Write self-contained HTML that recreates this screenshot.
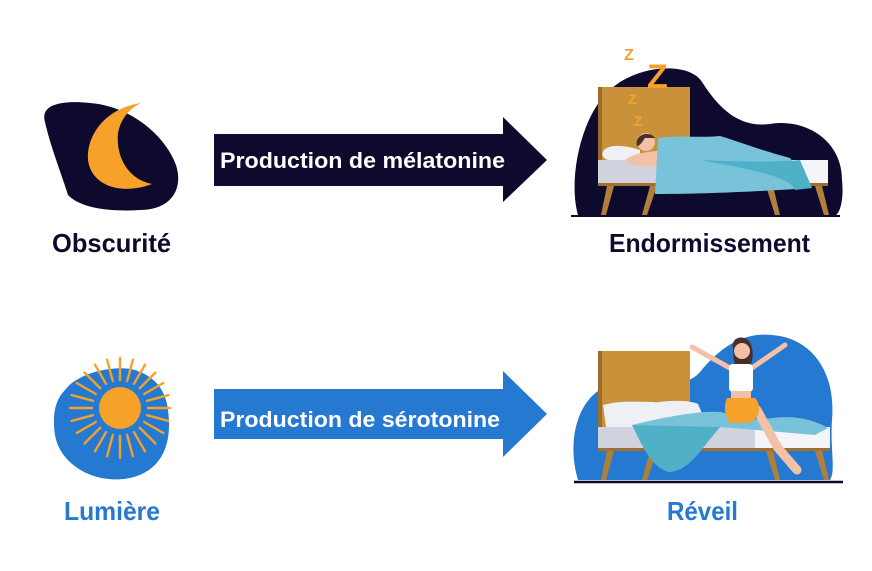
<!DOCTYPE html>
<html><head><meta charset="utf-8"><style>
html,body{margin:0;padding:0;background:#fff;}
svg{display:block;font-family:"Liberation Sans",sans-serif;font-weight:bold;}
</style></head><body>
<svg width="872" height="571" viewBox="0 0 872 571" xmlns="http://www.w3.org/2000/svg">
<rect width="872" height="571" fill="#fff"/>
<!-- Moon blob -->
<path d="M45,122 C40,105 60,100 90,103 C130,106 165,135 176,165 C184,190 170,210 140,210 C110,212 80,208 68,195 C60,170 50,145 45,122 Z" fill="#0d0a2e"/>
<path d="M141,103 C106,108 86,135 88,160 C91,185 120,196 152,184 C124,178 116,152 118,133 C121,117 131,108 141,103 Z" fill="#f6a12a"/>
<!-- Sun blob -->
<path d="M65,390 C80,370 120,365 135,370 C150,375 165,385 168,410 C172,440 165,470 130,478 C95,485 60,465 55,435 C52,415 55,400 65,390 Z" fill="#2579d0"/>
<g stroke="#f6a12a" stroke-width="2.4" stroke-linecap="round">
<line x1="148.0" y1="408.0" x2="170.0" y2="408.0"/><line x1="147.0" y1="415.2" x2="168.3" y2="420.9"/><line x1="144.2" y1="422.0" x2="163.3" y2="433.0"/><line x1="139.8" y1="427.8" x2="155.4" y2="443.4"/><line x1="134.0" y1="432.2" x2="145.0" y2="451.3"/><line x1="127.2" y1="435.0" x2="132.9" y2="456.3"/><line x1="120.0" y1="436.0" x2="120.0" y2="458.0"/><line x1="112.8" y1="435.0" x2="107.1" y2="456.3"/><line x1="106.0" y1="432.2" x2="95.0" y2="451.3"/><line x1="100.2" y1="427.8" x2="84.6" y2="443.4"/><line x1="95.8" y1="422.0" x2="76.7" y2="433.0"/><line x1="93.0" y1="415.2" x2="71.7" y2="420.9"/><line x1="92.0" y1="408.0" x2="70.0" y2="408.0"/><line x1="93.0" y1="400.8" x2="71.7" y2="395.1"/><line x1="95.8" y1="394.0" x2="76.7" y2="383.0"/><line x1="100.2" y1="388.2" x2="84.6" y2="372.6"/><line x1="106.0" y1="383.8" x2="95.0" y2="364.7"/><line x1="112.8" y1="381.0" x2="107.1" y2="359.7"/><line x1="120.0" y1="380.0" x2="120.0" y2="358.0"/><line x1="127.2" y1="381.0" x2="132.9" y2="359.7"/><line x1="134.0" y1="383.8" x2="145.0" y2="364.7"/><line x1="139.8" y1="388.2" x2="155.4" y2="372.6"/><line x1="144.2" y1="394.0" x2="163.3" y2="383.0"/><line x1="147.0" y1="400.8" x2="168.3" y2="395.1"/>
</g>
<circle cx="120" cy="408" r="21" fill="#f6a12a"/>
<!-- Arrows -->
<path d="M214,134 L503,134 L503,117 L547,160 L503,202 L503,186 L214,186 Z" fill="#0d0a2e"/>
<text x="220" y="168" font-size="22" fill="#fff" textLength="285" lengthAdjust="spacingAndGlyphs">Production de mélatonine</text>
<path d="M214,389 L503,389 L503,371 L547,414 L503,457 L503,439 L214,439 Z" fill="#2579d0"/>
<text x="220" y="427" font-size="22" fill="#fff" textLength="280" lengthAdjust="spacingAndGlyphs">Production de sérotonine</text>
<!-- Labels -->
<text x="52" y="252" font-size="26" fill="#0d0a2e" textLength="119" lengthAdjust="spacingAndGlyphs">Obscurité</text>
<text x="609" y="252" font-size="26" fill="#0d0a2e" textLength="201" lengthAdjust="spacingAndGlyphs">Endormissement</text>
<text x="64" y="520" font-size="26" fill="#2579d0" textLength="96" lengthAdjust="spacingAndGlyphs">Lumière</text>
<text x="667" y="520" font-size="26" fill="#2579d0" textLength="71" lengthAdjust="spacingAndGlyphs">Réveil</text>
<!-- Sleep scene -->
<path d="M578,215 C568,180 580,115 612,88 C640,64 690,62 702,82 C720,110 740,128 770,124 C805,118 842,140 842,180 C844,200 840,212 836,215 Z" fill="#0d0a2e"/>
<rect x="598" y="87" width="92" height="96" fill="#c8913a"/>
<rect x="598" y="87" width="4" height="96" fill="#9c6d2a"/>
<rect x="598" y="160" width="230" height="24" fill="#d0d3de"/>
<rect x="790" y="160" width="38" height="24" fill="#f4f5f9"/>
<rect x="598" y="183" width="230" height="3" fill="#a0702c"/>
<g fill="#b0803a">
<polygon points="607,186 614,186 606,215 601,215"/><polygon points="650,186 657,186 647,215 642,215"/>
<polygon points="766,186 773,186 780,215 775,215"/><polygon points="815,186 822,186 829,215 824,215"/>
</g>
<line x1="571" y1="216" x2="840" y2="216" stroke="#0d0a2e" stroke-width="2"/>
<path d="M604,150 C610,144 625,145 640,150 L640,160 L608,160 C602,158 601,154 604,150 Z" fill="#eef0f6"/>
<circle cx="646" cy="142" r="9" fill="#f3c1a6"/>
<path d="M637,146 C634,134 650,130 655,138 L645,138 C642,142 640,146 637,146 Z" fill="#4a2e2e"/>
<path d="M625,160 C635,152 650,152 665,150 L660,165 C645,168 630,166 625,160 Z" fill="#f3c1a6"/>
<path d="M658,138 C680,135 700,138 720,136 C740,142 760,150 790,158 L812,188 C780,190 720,194 655,194 Z" fill="#78c3da"/>
<path d="M700,160 C740,162 780,162 800,160 L812,188 L795,190 C790,175 740,168 700,160 Z" fill="#4fb0c8"/>
<g fill="#f6a12a">
<text x="624" y="60" font-size="16">Z</text><text x="628" y="104" font-size="14">Z</text><text x="634" y="126" font-size="14">Z</text>
<text x="647" y="88" font-size="34">Z</text>
</g>
<!-- Wake scene -->
<path d="M578,480 C566,440 578,395 610,385 C640,375 680,395 700,372 C722,345 745,332 772,335 C812,338 836,372 832,420 C830,450 836,470 830,480 Z" fill="#2579d0"/>
<rect x="598" y="351" width="92" height="99" fill="#c8913a"/>
<rect x="598" y="351" width="4" height="99" fill="#9c6d2a"/>
<path d="M603,405 C620,400 640,402 655,402 L660,427 L606,427 Z" fill="#eef0f6"/>
<path d="M652,403 C670,400 690,400 698,404 L705,420 L660,427 Z" fill="#eef0f6"/>
<rect x="598" y="427" width="232" height="22" fill="#d0d3de"/>
<rect x="755" y="427" width="75" height="22" fill="#f4f5f9"/>
<rect x="598" y="448" width="232" height="3" fill="#a0702c"/>
<g fill="#b0803a">
<polygon points="607,451 614,451 606,480 601,480"/><polygon points="650,451 657,451 647,480 642,480"/>
<polygon points="766,451 773,451 780,480 775,480"/><polygon points="815,451 822,451 829,480 824,480"/>
</g>
<path d="M632,425 C660,418 700,410 720,412 L760,420 C790,414 810,418 828,428 L815,435 L720,427 C700,450 690,470 670,472 C650,468 640,440 632,425 Z" fill="#78c3da"/>
<path d="M632,425 L720,427 C700,450 690,470 670,472 C650,468 640,440 632,425 Z" fill="#4fb0c8"/>
<line x1="574" y1="482" x2="843" y2="482" stroke="#0d0a2e" stroke-width="2.5"/>
<path d="M733,348 C730,335 750,333 752,348 C755,360 748,375 740,380 C735,370 733,360 733,348 Z" fill="#4a2e2e"/>
<circle cx="742" cy="351" r="8" fill="#f3c1a6"/>
<g stroke="#f3c1a6" stroke-linecap="round" fill="none">
<path d="M730,368 L692,347" stroke-width="5"/>
<path d="M752,368 L785,345" stroke-width="5"/>
<path d="M757,410 L778,448 L797,470" stroke-width="9"/>
</g>
<rect x="729" y="364" width="24" height="28" rx="4" fill="#fff"/>
<rect x="731" y="391" width="20" height="8" fill="#f3c1a6"/>
<path d="M727,398 L755,398 C762,405 760,420 748,423 L730,423 C724,415 724,405 727,398 Z" fill="#f6a12a"/>
</svg>
</body></html>
